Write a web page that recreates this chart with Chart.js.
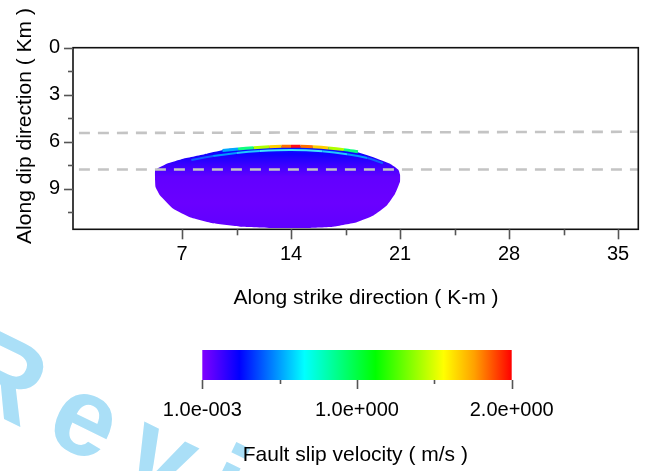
<!DOCTYPE html>
<html>
<head>
<meta charset="utf-8">
<script src="https://cdn.jsdelivr.net/npm/chart.js@4.4.1/dist/chart.umd.min.js"></script>
<style>
  html, body { margin: 0; padding: 0; background: #ffffff; }
  #wrap { position: relative; width: 650px; height: 471px; overflow: hidden; background: #fff; }
  #mark { position: absolute; left: -9px; top: 308px; transform: rotate(26deg); transform-origin: 0 0; letter-spacing: 22px;
          font: bold 112px "Liberation Sans", Arial, sans-serif; color: #aadff7; white-space: nowrap; line-height: 1; z-index: 0; }
  canvas { position: absolute; left: 0; z-index: 1; }
  #main { top: 0; }
  #bar { top: 330px; }
</style>
</head>
<body>
<div id="wrap">
  <div id="mark">Review</div>
  <canvas id="main" width="650" height="330"></canvas>
  <canvas id="bar" width="650" height="141"></canvas>
</div>
<script>
// ---------- data ----------
const xMajorTicks = [7, 14, 21, 28, 35];
const xMinorTicks = [10.5, 17.5, 24.5, 31.5];
const yMajorTicks = [0, 3, 6, 9];
const yMinorTicks = [1.5, 4.5, 7.5, 10.5];
const xRange = [0, 36.3];
const yRange = [0, 11.6];

// outline of the slipping patch (km along strike, km along dip)
const slipX = [5.27, 5.27, 5.38, 6.02, 7.08, 8.59, 9.87, 11.56, 13.94, 16.29, 18.00, 19.29, 20.36, 20.89, 21.0, 21.0, 20.68, 20.15, 19.29, 18.22, 16.72, 15.01, 12.86, 10.73, 9.01, 7.51, 6.44, 5.59, 5.30, 5.27];
const slipY = [8.48, 7.78, 7.73, 7.41, 7.09, 6.77, 6.49, 6.35, 6.24, 6.35, 6.60, 6.99, 7.41, 7.79, 8.10, 8.55, 9.33, 10.08, 10.72, 11.15, 11.43, 11.51, 11.51, 11.43, 11.22, 10.83, 10.29, 9.44, 8.90, 8.48];

// high-velocity rupture front near the top of the patch
const frontX = [9.6, 10.6, 11.6, 12.6, 13.4, 14.0, 14.6, 15.4, 16.4, 17.4, 18.3];
const frontY = [6.56, 6.47, 6.39, 6.33, 6.30, 6.29, 6.30, 6.33, 6.40, 6.51, 6.65];
const frontColors = ['#00a8ff', '#10ff80', '#b0ff00', '#ffd000', '#ff7000', '#ff1010', '#ff7000', '#ffd000', '#b0ff00', '#10ff80'];

const rimX = [7.6, 9.0, 10.5, 12.0, 14.0, 16.0, 17.6, 18.9, 19.9];
const rimY = [7.18, 6.92, 6.72, 6.60, 6.54, 6.62, 6.80, 7.05, 7.38];
const rimColors = ['#1060ff', '#0098ff', '#20c8ff', '#40e4ff', '#40e4ff', '#20c8ff', '#0098ff', '#1060ff'];

// dashed reference lines
const upperLineX = [0.38, 36.3];
const upperLineY = [5.45, 5.37];
const lowerLineX = [0.38, 36.3];
const lowerLineY = [7.78, 7.78];

// colour bar
const cbRange = [0.001, 2];
const cbTickValues = [0.001, 0.5, 1, 1.5, 2];
const cbTickLabels = ['1.0e-003', '', '1.0e+000', '', '2.0e+000'];
const cbMajor = [0.001, 1, 2];
const cbMinor = [0.5, 1.5];
const cbStops = [0, 0.12, 0.33, 0.56, 0.78, 0.88, 1];
const cbColors = ['#8000ff', '#0000ff', '#00ffff', '#00ff00', '#ffff00', '#ffa000', '#ff0000'];

const FONT = '"Liberation Sans", Arial, Helvetica, sans-serif';

const pts = (xs, ys) => xs.map((x, i) => ({ x: x, y: ys[i] }));

const decor = {
  id: 'decor',
  afterDraw(chart, args, o) {
    const ctx = chart.ctx, ca = chart.chartArea;
    ctx.save();
    if (o.frame) {
      ctx.strokeStyle = '#111'; ctx.lineWidth = 1.6;
      ctx.strokeRect(ca.left, ca.top, ca.right - ca.left, ca.bottom - ca.top);
    }
    ctx.strokeStyle = '#555'; ctx.lineWidth = 1.6;
    if (o.xTicks) {
      const sx = chart.scales.x;
      const draw = (v, len) => { const p = Math.round(sx.getPixelForValue(v)) + 0.5; ctx.beginPath(); ctx.moveTo(p, ca.bottom); ctx.lineTo(p, ca.bottom + len); ctx.stroke(); };
      o.xTicks.major.forEach(v => draw(v, o.xTicks.majorLen));
      o.xTicks.minor.forEach(v => draw(v, o.xTicks.minorLen));
    }
    if (o.yTicks) {
      const sy = chart.scales.y;
      const draw = (v, len) => { const p = Math.round(sy.getPixelForValue(v)) + 0.5; ctx.beginPath(); ctx.moveTo(ca.left, p); ctx.lineTo(ca.left - len, p); ctx.stroke(); };
      o.yTicks.major.forEach(v => draw(v, o.yTicks.majorLen));
      o.yTicks.minor.forEach(v => draw(v, o.yTicks.minorLen));
    }
    (o.titles || []).forEach(t => {
      ctx.save();
      ctx.font = '21px ' + FONT; ctx.fillStyle = '#000';
      ctx.textAlign = 'center'; ctx.textBaseline = 'middle';
      ctx.translate(t.x, t.y); ctx.rotate(t.rot || 0);
      ctx.fillText(t.text, 0, 0);
      ctx.restore();
    });
    ctx.restore();
  }
};

function slipFill(c) {
  const chart = c.chart;
  if (!chart.chartArea) return '#6a00ff';
  const sy = chart.scales.y;
  const g = chart.ctx.createLinearGradient(0, sy.getPixelForValue(6.25), 0, sy.getPixelForValue(11.5));
  g.addColorStop(0.00, '#0020ff');
  g.addColorStop(0.10, '#1000ff');
  g.addColorStop(0.22, '#3400ff');
  g.addColorStop(0.38, '#6200ff');
  g.addColorStop(0.70, '#6a00ff');
  g.addColorStop(1.00, '#6000ff');
  return g;
}

new Chart(document.getElementById('main'), {
  type: 'scatter',
  data: {
    datasets: [
      { label: 'upper', data: pts(upperLineX, upperLineY), showLine: true, borderColor: '#c4c4c4', borderWidth: 2.6, borderDash: [11, 8], pointRadius: 0, order: 0 },
      { label: 'lower', data: pts(lowerLineX, lowerLineY), showLine: true, borderColor: '#c4c4c4', borderWidth: 2.6, borderDash: [11, 8], pointRadius: 0, order: 0 },
      { label: 'front', data: pts(frontX, frontY), showLine: true, borderWidth: 3, tension: 0.3, pointRadius: 0, order: 1,
        borderColor: frontColors[0], segment: { borderColor: s => frontColors[s.p0DataIndex] } },
      { label: 'rim', data: pts(rimX, rimY), showLine: true, borderWidth: 2, tension: 0.3, pointRadius: 0, order: 2,
        borderColor: rimColors[0], segment: { borderColor: s => rimColors[s.p0DataIndex] } },
      { label: 'slip', data: pts(slipX, slipY), showLine: true, fill: 'shape', tension: 0.12, pointRadius: 0, order: 3,
        borderWidth: 0, borderColor: 'rgba(0,0,0,0)', backgroundColor: slipFill }
    ]
  },
  options: {
    responsive: false, animation: false, devicePixelRatio: 1,
    layout: { padding: { left: 0, right: 11.7, top: 47.7, bottom: 0 } },
    plugins: {
      legend: { display: false }, tooltip: { enabled: false },
      decor: {
        frame: true,
        xTicks: { major: xMajorTicks, minor: xMinorTicks, majorLen: 10, minorLen: 6 },
        yTicks: { major: yMajorTicks, minor: yMinorTicks, majorLen: 9, minorLen: 5 },
        titles: [
          { text: 'Along strike direction ( K-m )', x: 366, y: 298 },
          { text: 'Along dip direction ( Km )', x: 25, y: 126, rot: -Math.PI / 2 }
        ]
      }
    },
    scales: {
      x: {
        type: 'linear', position: 'bottom', min: xRange[0], max: xRange[1],
        grid: { display: false, drawTicks: false }, border: { display: false },
        afterFit: s => { s.height = 100.7; },
        afterBuildTicks: s => { s.ticks = xMajorTicks.map(v => ({ value: v })); },
        ticks: { autoSkip: false, maxRotation: 0, padding: 13, color: '#000', font: { family: FONT, size: 20 }, callback: v => String(v) }
      },
      y: {
        type: 'linear', position: 'left', reverse: true, min: yRange[0], max: yRange[1],
        grid: { display: false, drawTicks: false }, border: { display: false },
        afterFit: s => { s.width = 73; },
        afterBuildTicks: s => { s.ticks = yMajorTicks.map(v => ({ value: v })); },
        ticks: { autoSkip: false, padding: 13, color: '#000', font: { family: FONT, size: 20 }, callback: v => String(v) }
      }
    }
  },
  plugins: [decor]
});

function cbFill(c) {
  const chart = c.chart;
  if (!chart.chartArea) return cbColors[0];
  const sx = chart.scales.x;
  const g = chart.ctx.createLinearGradient(sx.getPixelForValue(cbRange[0]), 0, sx.getPixelForValue(cbRange[1]), 0);
  cbStops.forEach((p, i) => g.addColorStop(p, cbColors[i]));
  return g;
}

new Chart(document.getElementById('bar'), {
  type: 'bar',
  data: {
    labels: ['Fault slip velocity'],
    datasets: [{ data: [cbRange], backgroundColor: cbFill, borderWidth: 0, borderSkipped: false, barPercentage: 1, categoryPercentage: 1 }]
  },
  options: {
    indexAxis: 'y', responsive: false, animation: false, devicePixelRatio: 1,
    layout: { padding: { left: 202.3, right: 138.3, top: 20, bottom: 0 } },
    plugins: {
      legend: { display: false }, tooltip: { enabled: false },
      decor: {
        frame: false,
        xTicks: { major: cbMajor, minor: cbMinor, majorLen: 9, minorLen: 4 },
        titles: [{ text: 'Fault slip velocity ( m/s )', x: 355.3, y: 125 }]
      }
    },
    scales: {
      x: {
        type: 'linear', min: cbRange[0], max: cbRange[1],
        grid: { display: false, drawTicks: false }, border: { display: false },
        afterFit: s => { s.height = 91; },
        afterBuildTicks: s => { s.ticks = cbTickValues.map(v => ({ value: v })); },
        ticks: { autoSkip: false, maxRotation: 0, padding: 18, color: '#000', font: { family: FONT, size: 20 },
                 callback: (v, i) => cbTickLabels[i] }
      },
      y: { display: false }
    }
  },
  plugins: [decor]
});
</script>
</body>
</html>
